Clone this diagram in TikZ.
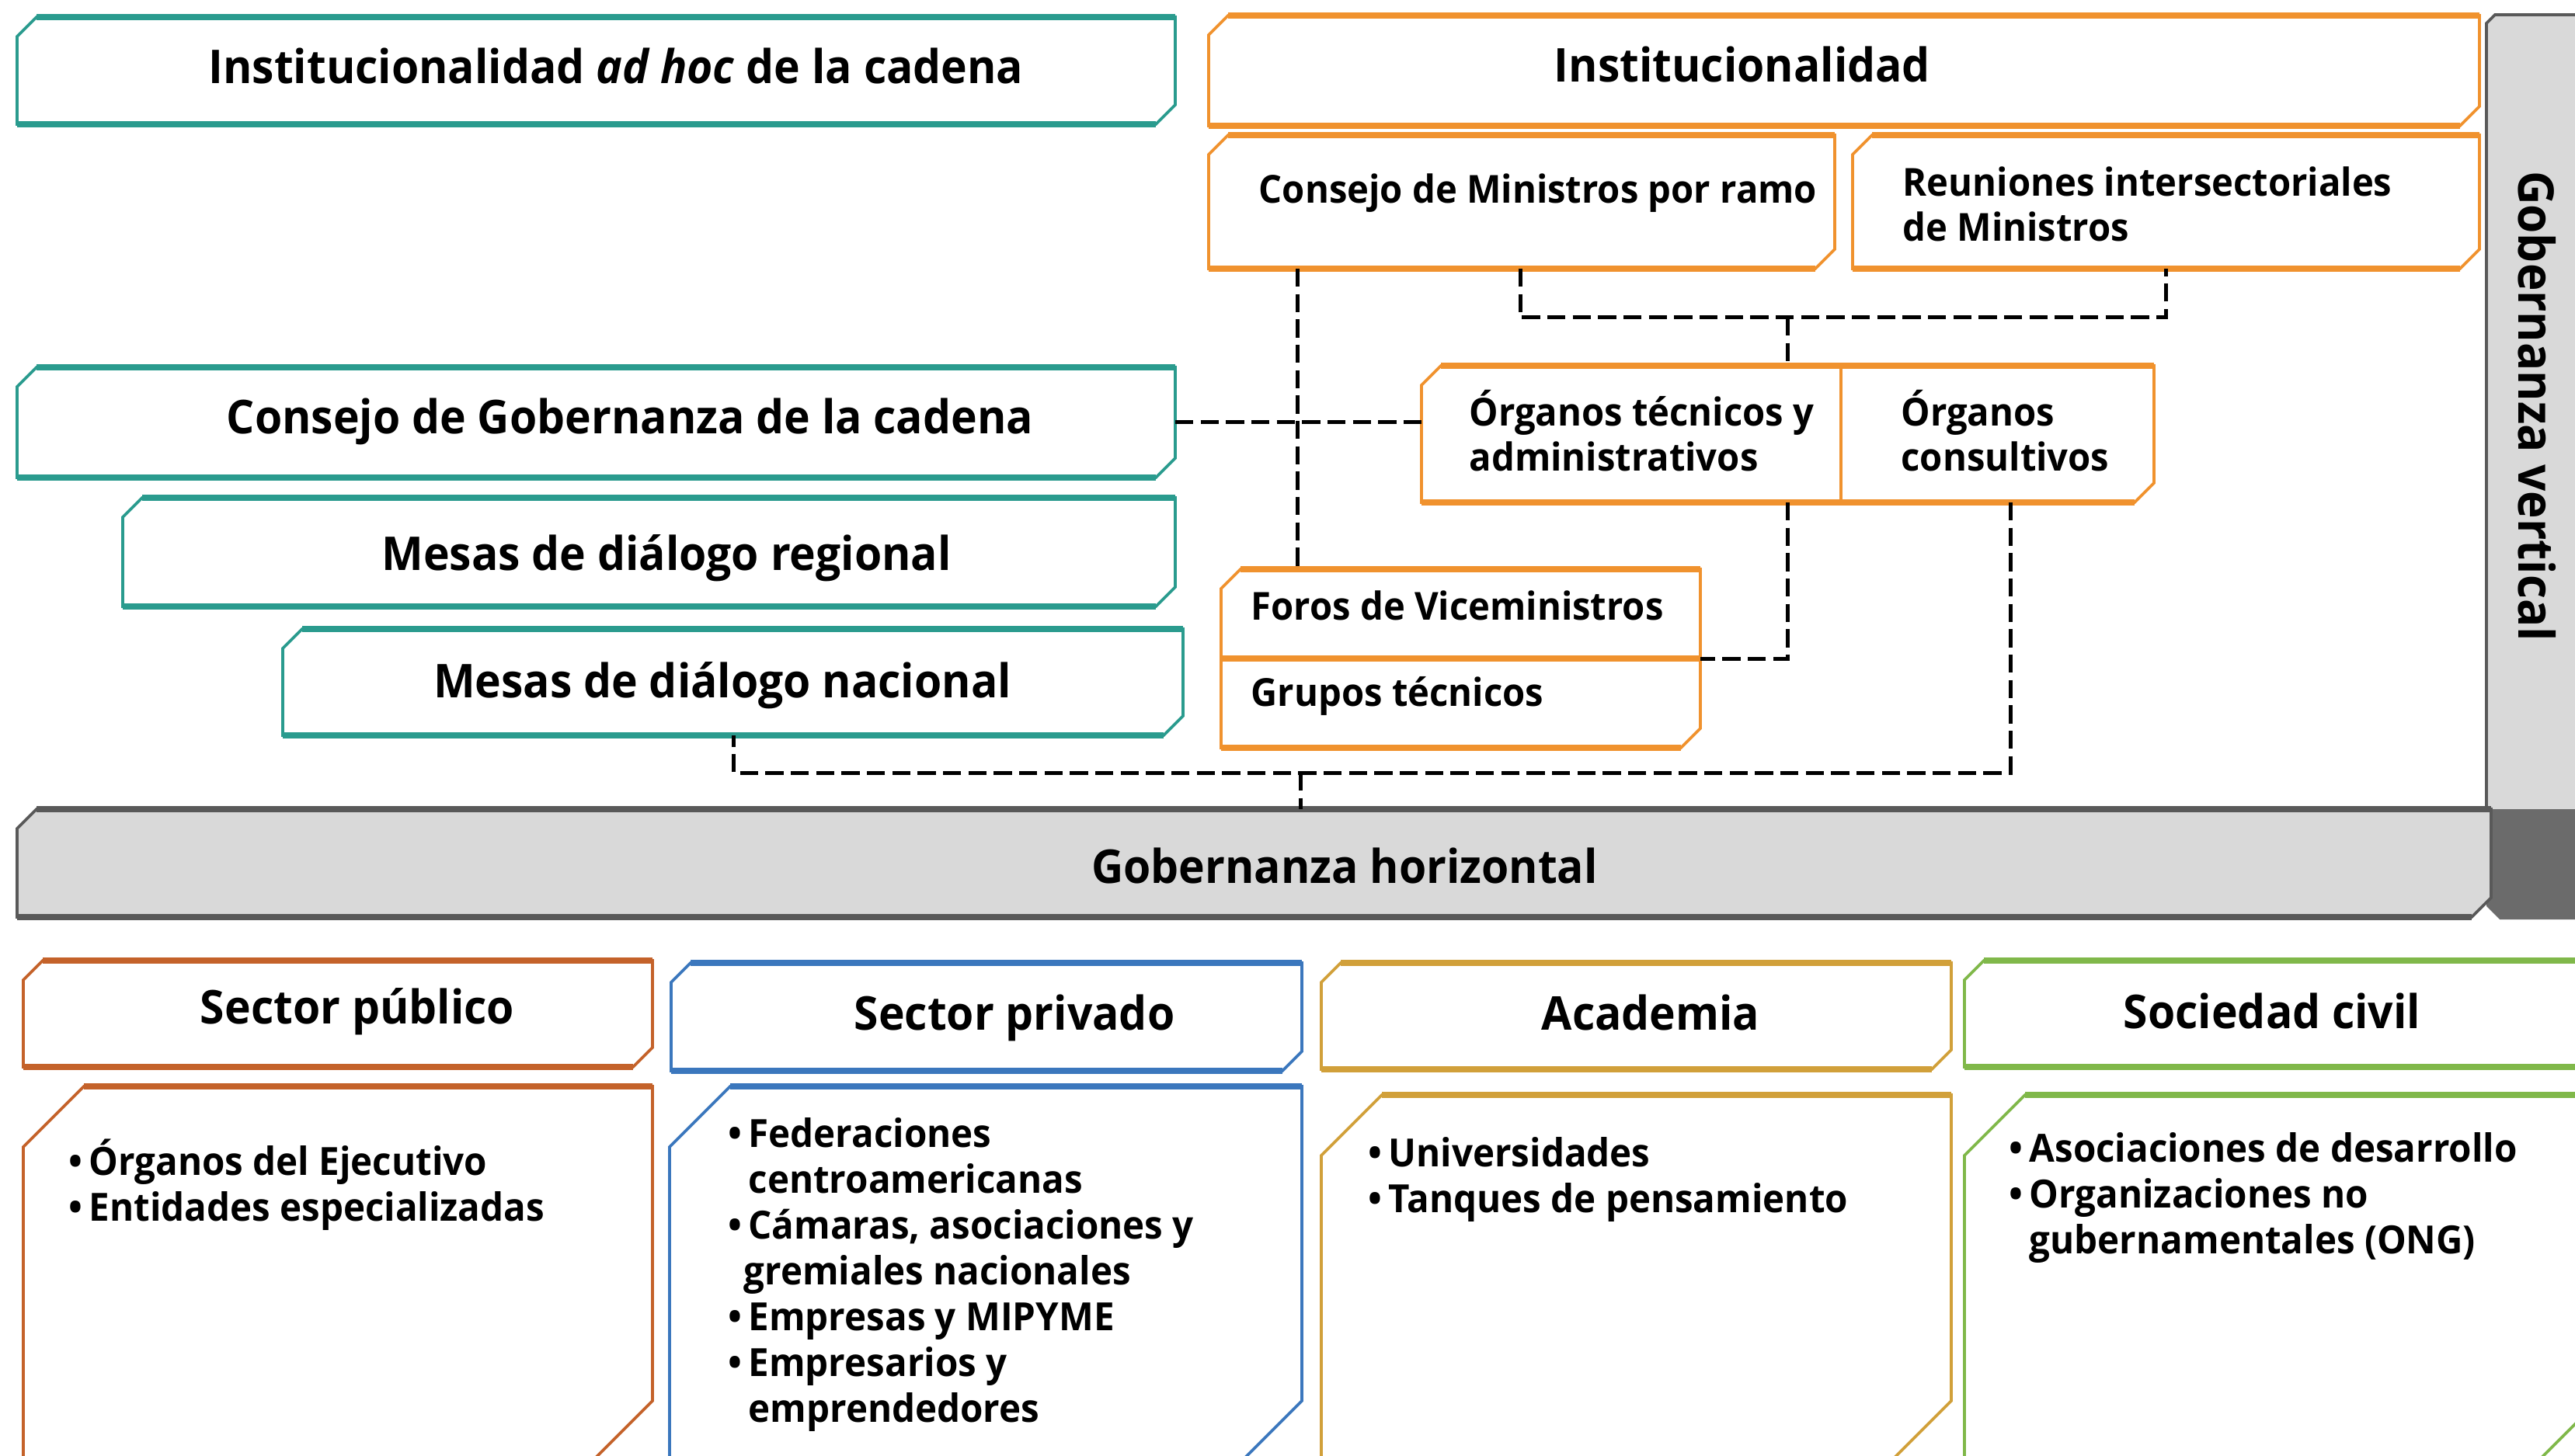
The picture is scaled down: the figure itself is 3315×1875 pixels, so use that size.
\documentclass[tikz,border=0pt]{standalone}
\usepackage{fontspec}
\setmainfont{Open Sans}[FakeStretch=0.95]
\usetikzlibrary{calc,fit}
\definecolor{tealc}{HTML}{2A9B8E}
\definecolor{orngc}{HTML}{F0922E}
\definecolor{pubc}{HTML}{C4622A}
\definecolor{privc}{HTML}{3B77BD}
\definecolor{acadc}{HTML}{D1A03A}
\definecolor{socc}{HTML}{80B84A}
\definecolor{grayA}{HTML}{D9D9D9}
\definecolor{grayB}{HTML}{595959}
\definecolor{grayC}{HTML}{6B6B6B}
\newcommand\chamf[4][white]{%
  \filldraw[fill=#1, draw=#3, line width=1.1pt]
    ([yshift=-#4]#2.north west) -- ([xshift=#4]#2.north west) -- (#2.north east)
    -- ([yshift=#4]#2.south east) -- ([xshift=-#4]#2.south east) -- (#2.south west) -- cycle;
  \draw[#3, line width=2.4pt] ([xshift=#4]#2.north west) -- (#2.north east)
    ([xshift=-#4]#2.south east) -- (#2.south west);}
\newcommand\itm{\makebox[7.8pt][l]{\textbullet}}
\tikzset{
  frame/.style={inner sep=0pt, outer sep=0pt, draw=none},
  hd/.style={font=\bfseries\fontsize{18}{21}\selectfont, inner sep=0pt},
  md/.style={font=\bfseries\fontsize{14.9}{17.4}\selectfont, inner sep=0pt, align=left},
  ls/.style={font=\bfseries\fontsize{15}{17.7}\selectfont, inner sep=0pt, align=left},
  conn/.style={draw=black, line width=1.5pt, dash pattern=on 7pt off 2.8pt},
}
\begin{document}
\begin{tikzpicture}[x=0.3pt,y=-0.3pt]
\useasboundingbox (0,0) rectangle (3315,1875);
\clip (0,0) rectangle (3315,1875);
\fill[white] (0,0) rectangle (3315,1875);

% frames
\node[frame, fit={(22,22) (1513,160)}] (ahoc) {};
\node[frame, fit={(1556,20) (3192,162)}] (inst) {};
\node[frame, fit={(1556,174) (2362,346)}] (cmin) {};
\node[frame, fit={(2385,174) (3192,346)}] (reun) {};
\node[frame, fit={(22,473) (1513,615)}] (cgob) {};
\node[frame, fit={(158,641) (1513,781)}] (mreg) {};
\node[frame, fit={(364,810) (1523,947)}] (mnac) {};
\node[frame, fit={(1830,471) (2773,647)}] (organ) {};
\node[frame, fit={(1572,733) (2189,963)}] (foros) {};
\node[frame, fit={(22,1042) (3207,1181)}] (hbar) {};
\node[frame, fit={(3201,19) (3340,1184)}] (vbar) {};
\node[frame, fit={(30,1237) (840,1374)}] (hpub) {};
\node[frame, fit={(30,1399) (840,1882)}] (bpub) {};
\node[frame, fit={(864,1240) (1676,1379)}] (hpriv) {};
\node[frame, fit={(862,1399) (1676,1882)}] (bpriv) {};
\node[frame, fit={(1701,1240) (2512,1377)}] (hacad) {};
\node[frame, fit={(1701,1410) (2512,1882)}] (bacad) {};
\node[frame, fit={(2529,1237) (3345,1374)}] (hsoc) {};
\node[frame, fit={(2529,1410) (3345,1882)}] (bsoc) {};

% vertical bar
\fill[grayA] (3201,30) -- (3212,19) -- (3345,19) -- (3345,1042) -- (3201,1042) -- cycle;
\draw[grayB, line width=1.1pt] (3201,1042) -- (3201,30) -- (3212,19) -- (3345,19);
\fill[grayC] (3201,1042) -- (3345,1042) -- (3345,1184) -- (3218,1184) -- (3201,1167) -- cycle;
% horizontal bar
\chamf[grayA]{hbar}{grayB}{7.5pt}

% boxes
\chamf{ahoc}{tealc}{7.5pt}
\chamf{cgob}{tealc}{7.5pt}
\chamf{mreg}{tealc}{7.5pt}
\chamf{mnac}{tealc}{7.5pt}
\chamf{inst}{orngc}{7.5pt}
\chamf{cmin}{orngc}{7.5pt}
\chamf{reun}{orngc}{7.5pt}
\chamf{organ}{orngc}{7.5pt}
\draw[orngc, line width=1.1pt] (2370,471) -- (2370,647);
\chamf{foros}{orngc}{7.5pt}
\draw[orngc, line width=2.6pt] (1572,848) -- (2189,848);
\chamf{hpub}{pubc}{7.5pt}
\chamf{bpub}{pubc}{23.4pt}
\chamf{hpriv}{privc}{7.5pt}
\chamf{bpriv}{privc}{23.4pt}
\chamf{hacad}{acadc}{7.5pt}
\chamf{bacad}{acadc}{23.4pt}
\chamf{hsoc}{socc}{7.5pt}
\chamf{bsoc}{socc}{23.4pt}

% connectors
\coordinate (j1) at (1957,409);
\coordinate (j2) at (2788,409);
\coordinate (jm) at (2301,409);
\coordinate (k1) at (1670,409);
\coordinate (l1) at (2588,995);
\coordinate (l2) at (944,995);
\coordinate (l3) at (1674,995);
\draw[conn] (cmin.south -| j1) -- (j1) -- (j2) -- (reun.south -| j2);
\draw[conn] (jm) -- (organ.north -| jm);
\draw[conn] (cmin.south -| k1) -- (foros.north -| k1);
\draw[conn] (cgob.east) -- (cgob.east -| organ.west);
\draw[conn] (organ.south -| jm) |- (foros.east);
\draw[conn] (organ.south -| l1) -- (l1) -- (l2) -- (mnac.south -| l2);
\draw[conn] (l3) -- (l3 |- hbar.north);

% texts
\node[hd, anchor=base] (tahoc) at (793,108) {Institucionalidad \textit{ad hoc} de la cadena};
\node[hd, anchor=base] (tinst) at (2243,106) {Institucionalidad};
\node[md, anchor=base] (tcmin) at (1980,262) {Consejo de Ministros por ramo};
\node[md, anchor=base west] (treun) at (2449,311) {Reuniones intersectoriales\\de Ministros};
\node[hd, anchor=base] (tcgob) at (811,559) {Consejo de Gobernanza de la cadena};
\node[hd, anchor=base] (tmreg) at (858,735) {Mesas de diálogo regional};
\node[hd, anchor=base] (tmnac) at (930,898) {Mesas de diálogo nacional};
\node[md, anchor=base west] (totec) at (1891,607) {Órganos técnicos y\\administrativos};
\node[md, anchor=base west] (tocon) at (2447,607) {Órganos\\consultivos};
\node[md, anchor=base west] (tforos) at (1610,798) {Foros de Viceministros};
\node[md, anchor=base west] (tgrup) at (1610,909) {Grupos técnicos};
\node[hd, anchor=base] (thbar) at (1731,1137) {Gobernanza horizontal};
\node[hd, rotate=-90, font=\bfseries\fontsize{19}{22}\selectfont] (tvbar) at (3266,523) {Gobernanza vertical};
\node[hd, anchor=base] (tpub) at (460,1318) {Sector público};
\node[hd, anchor=base] (tpriv) at (1306,1326) {Sector privado};
\node[hd, anchor=base] (tacad) at (2125,1326) {Academia};
\node[hd, anchor=base] (tsoc) at (2925,1324) {Sociedad civil};
\node[ls, anchor=base west] (lpub) at (88,1572) {\itm Órganos del Ejecutivo\\\itm Entidades especializadas};
\node[ls, anchor=base west] (lpriv) at (937,1831) {\itm Federaciones\\\hspace*{7.8pt}centroamericanas\\\itm Cámaras, asociaciones y\\\hspace*{6pt}gremiales nacionales\\\itm Empresas y MIPYME\\\itm Empresarios y\\\hspace*{7.8pt}emprendedores};
\node[ls, anchor=base west] (lacad) at (1761,1561) {\itm Universidades\\\itm Tanques de pensamiento};
\node[ls, anchor=base west] (lsoc) at (2586,1614) {\itm Asociaciones de desarrollo\\\itm Organizaciones no\\\hspace*{7.8pt}gubernamentales (ONG)};
\end{tikzpicture}
\end{document}
